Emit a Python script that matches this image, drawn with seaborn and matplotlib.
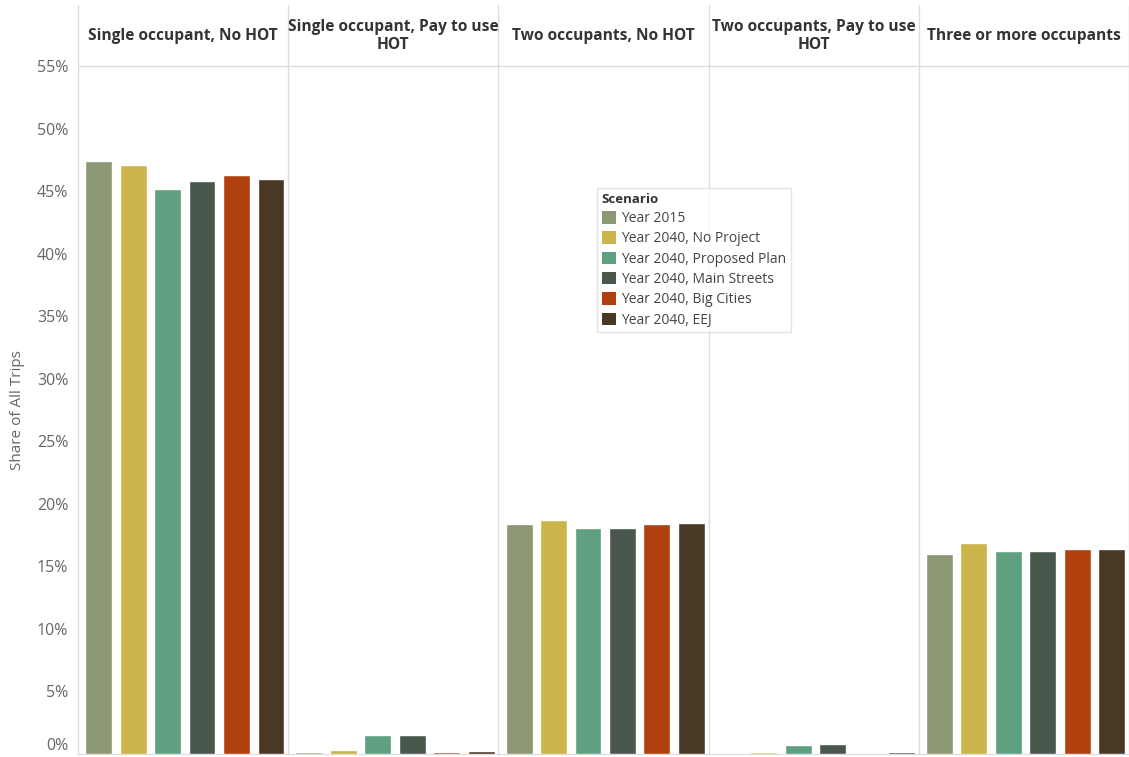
import matplotlib.pyplot as plt
import pandas as pd
import seaborn as sns
from matplotlib.lines import Line2D
from matplotlib.patches import Patch

modes = [
    "Single occupant, No HOT",
    "Single occupant, Pay to use\nHOT",
    "Two occupants, No HOT",
    "Two occupants, Pay to use\nHOT",
    "Three or more occupants",
]
scenarios = [
    "Year 2015",
    "Year 2040, No Project",
    "Year 2040, Proposed Plan",
    "Year 2040, Main Streets",
    "Year 2040, Big Cities",
    "Year 2040, EEJ",
]
# share of all trips (%) per scenario, one value per mode
year_2015 = [47.4, 0.15, 18.4, 0.03, 16.0]
no_project = [47.1, 0.28, 18.7, 0.15, 16.9]
proposed_plan = [45.2, 1.5, 18.1, 0.72, 16.2]
main_streets = [45.8, 1.5, 18.1, 0.8, 16.2]
big_cities = [46.3, 0.15, 18.4, 0.0, 16.35]
eej = [46.0, 0.2, 18.5, 0.15, 16.35]
colors = ["#8C9774", "#CBB449", "#5FA080", "#4A574D", "#B0410E", "#483824"]
yticks = list(range(0, 60, 5))

series = [year_2015, no_project, proposed_plan, main_streets, big_cities, eej]
rows = []
for scen, vals in zip(scenarios, series):
    for mode, v in zip(modes, vals):
        rows.append({"mode": mode, "scenario": scen, "share": v})
df = pd.DataFrame(rows)
palette = dict(zip(scenarios, colors))

sns.set_style("white")
plt.rcParams["font.family"] = ["Open Sans", "DejaVu Sans"]

W, H = 1129, 757
fig = plt.figure(figsize=(W / 100, H / 100), dpi=100)

left_px, right_px, top_px, bot_px, head_top = 78, 1129, 66, 754, 5
panel_w = (right_px - left_px) / len(modes)
grid_c = "#dcdcdc"
text_c = "#666666"

axes = []
for i, mode in enumerate(modes):
    x0 = left_px + i * panel_w
    ax = fig.add_axes([x0 / W, 1 - bot_px / H, panel_w / W, (bot_px - top_px) / H])
    sub = df[df["mode"] == mode]
    sns.barplot(data=sub, x="scenario", y="share", hue="scenario", order=scenarios,
                hue_order=scenarios, palette=palette, width=0.78, dodge=False,
                saturation=1, legend=False, ax=ax)
    for p in ax.patches:
        p.set_zorder(3)
    ax.set_ylim(0, 55)
    ax.set_xlim(-0.6, 5.5)
    ax.set_xlabel("")
    ax.set_ylabel("")
    ax.set_xticks([])
    for s in ["top", "right", "left"]:
        ax.spines[s].set_visible(False)
    ax.spines["bottom"].set_color(grid_c)
    ax.spines["bottom"].set_zorder(1)
    if i == 0:
        ax.set_yticks(yticks)
        ax.set_yticklabels([f"{t}%" for t in yticks], fontsize=11.5, color=text_c)
        ax.tick_params(axis="y", length=4, color=grid_c, pad=3)
        lab0 = ax.get_yticklabels()[0]
        lab0.set_verticalalignment("bottom")
    else:
        ax.set_yticks([])
    # header text
    fig.text((x0 + panel_w / 2) / W, 1 - 36 / H, mode, ha="center", va="center",
             fontsize=11.2, fontweight="bold", color="#333333", linespacing=1.15)
    axes.append(ax)

# panel separators and header line
for i in range(len(modes) + 1):
    x = (left_px + i * panel_w) / W
    fig.add_artist(Line2D([x, x], [1 - head_top / H, 1 - bot_px / H], color=grid_c, lw=1))
fig.add_artist(Line2D([left_px / W, 1], [1 - top_px / H, 1 - top_px / H], color=grid_c, lw=1))

fig.text(18 / W, 1 - (top_px + bot_px) / 2 / H, "Share of All Trips", rotation=90,
         ha="center", va="center", fontsize=11, color=text_c)

handles = [Patch(facecolor=c, edgecolor="none") for c in colors]
leg = fig.legend(handles, scenarios, title="Scenario", loc="upper left",
                 bbox_to_anchor=(597 / W, 1 - 188 / H), fontsize=10,
                 title_fontproperties={"weight": "bold", "size": 9.5},
                 frameon=True, fancybox=False, handlelength=1.0, handleheight=1.0,
                 handletextpad=0.4, labelspacing=0.38, borderpad=0.35,
                 borderaxespad=0)
leg.get_frame().set_edgecolor(grid_c)
leg.get_frame().set_linewidth(1)
leg._legend_box.align = "left"
for t in leg.get_texts():
    t.set_color("#444444")
leg.get_title().set_color("#333333")

fig.savefig("out.png", dpi=100)
